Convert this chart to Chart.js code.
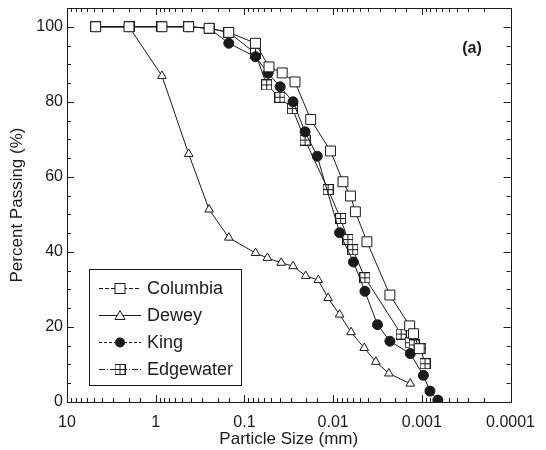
<!DOCTYPE html>
<html>
<head>
<meta charset="utf-8">
<script src="https://cdn.jsdelivr.net/npm/chart.js@4"></script>
<style>
  html, body { margin: 0; padding: 0; background: #fff; }
  #wrap { width: 546px; height: 450px; }
</style>
</head>
<body>
<div id="wrap"><canvas id="gradChart" width="546" height="450"></canvas></div>
<script>
// grain size data (mm vs % passing)
const columbiaSize = [4.75, 2.0, 0.85, 0.425, 0.25, 0.15, 0.075, 0.0528, 0.0375, 0.0269, 0.0179, 0.0107, 0.00774, 0.00637, 0.00561, 0.00416, 0.00229, 0.00137, 0.00124, 0.00107];
const columbiaPass = [100, 100, 100, 100, 99.6, 98.5, 95.6, 89.3, 87.7, 85.3, 75.3, 66.9, 58.7, 54.9, 50.7, 42.7, 28.5, 20.3, 18.2, 14.2];

const deweySize = [4.75, 2.0, 0.85, 0.425, 0.25, 0.15, 0.075, 0.0551, 0.0385, 0.0283, 0.0204, 0.0147, 0.0114, 0.00845, 0.00627, 0.00446, 0.0033, 0.00235, 0.00135];
const deweyPass = [100, 100, 86.9, 66.1, 51.3, 43.8, 39.7, 38.4, 37.1, 36.2, 33.6, 32.5, 27.7, 23.3, 18.6, 14.4, 10.7, 7.6, 4.9];

const kingSize = [4.75, 2.0, 0.85, 0.425, 0.25, 0.15, 0.075, 0.0541, 0.0395, 0.0283, 0.0207, 0.0151, 0.00845, 0.0059, 0.00438, 0.00316, 0.00229, 0.00135, 0.00096, 0.00081, 0.00066];
const kingPass = [100, 100, 100, 100, 99.6, 95.6, 92, 87.6, 84, 80, 72, 65.5, 45.1, 37.3, 29.5, 20.6, 16.2, 12.9, 7.1, 2.9, 0.5];

const edgeSize = [4.75, 2.0, 0.85, 0.425, 0.25, 0.15, 0.075, 0.0561, 0.0398, 0.0288, 0.0207, 0.0114, 0.00824, 0.00681, 0.0060, 0.00438, 0.00171, 0.00135, 0.00122, 0.00103, 0.00092];
const edgePass = [100, 100, 100, 100, 99.6, 98.5, 92.9, 84.5, 81.2, 78.2, 69.8, 56.6, 48.9, 43.3, 40.6, 33.1, 18.1, 15.8, 15.2, 14.2, 10.2];

const xTickLabels = ['10', '1', '0.1', '0.01', '0.001', '0.0001'];
const yTickLabels = [0, 20, 40, 60, 80, 100];

const FONT = "'Liberation Sans', Arial, sans-serif";
const INK = '#1a1a1a';

function pts(xs, ys) {
    return xs.map((x, i) => ({ x: x, y: ys[i] }));
}

// square with a cross inside, for Edgewater
function crossSquare(size) {
    const c = document.createElement('canvas');
    c.width = size; c.height = size;
    const g = c.getContext('2d');
    g.fillStyle = '#fff';
    g.fillRect(0, 0, size, size);
    g.strokeStyle = INK;
    g.lineWidth = 1;
    g.strokeRect(0.5, 0.5, size - 1, size - 1);
    const m = Math.floor(size / 2) + 0.5;
    g.beginPath();
    g.moveTo(m, 1); g.lineTo(m, size - 1);
    g.moveTo(1, m); g.lineTo(size - 1, m);
    g.stroke();
    return c;
}
const edgeMarker = crossSquare(11);

// inward ticks + frame
const frameTicks = {
    id: 'frameTicks',
    afterDraw(chart) {
        const ctx = chart.ctx;
        const a = chart.chartArea;
        const xs = chart.scales.x, ys = chart.scales.y;
        ctx.save();
        ctx.strokeStyle = INK;
        ctx.lineWidth = 1;
        ctx.strokeRect(Math.round(a.left) + 0.5, Math.round(a.top) + 0.5,
            Math.round(a.right - a.left), Math.round(a.bottom - a.top));
        ctx.beginPath();
        xs.ticks.forEach(t => {
            const p = Math.round(xs.getPixelForValue(t.value)) + 0.5;
            const lg = Math.log10(t.value);
            const len = Math.abs(lg - Math.round(lg)) < 1e-6 ? 7 : 4;
            ctx.moveTo(p, a.bottom); ctx.lineTo(p, a.bottom - len);
            ctx.moveTo(p, a.top); ctx.lineTo(p, a.top + len);
        });
        ys.ticks.forEach(t => {
            const p = Math.round(ys.getPixelForValue(t.value)) + 0.5;
            const len = t.value % 20 === 0 ? 7 : 4;
            ctx.moveTo(a.left, p); ctx.lineTo(a.left + len, p);
            ctx.moveTo(a.right, p); ctx.lineTo(a.right - len, p);
        });
        ctx.stroke();

        // panel tag
        ctx.fillStyle = INK;
        ctx.font = 'bold 16px ' + FONT;
        ctx.textAlign = 'center';
        ctx.textBaseline = 'middle';
        ctx.fillText('(a)', 472, 49);
        ctx.restore();
    }
};

// boxed legend with line + marker samples
const boxLegend = {
    id: 'boxLegend',
    afterDraw(chart) {
        const ctx = chart.ctx;
        const bx = 89.5, by = 269.5, bw = 152, bh = 116;
        const rows = [288, 315, 342, 369];
        const dashes = [[4, 2], [], [3, 2], [6, 2, 1, 2]];
        ctx.save();
        ctx.fillStyle = '#fff';
        ctx.fillRect(bx, by, bw, bh);
        ctx.strokeStyle = INK;
        ctx.lineWidth = 1;
        ctx.strokeRect(bx, by, bw, bh);
        chart.data.datasets.forEach((ds, i) => {
            const y = rows[i] + 0.5;
            ctx.setLineDash(dashes[i]);
            ctx.beginPath();
            ctx.moveTo(99, y); ctx.lineTo(141, y);
            ctx.stroke();
            ctx.setLineDash([]);
            const cx = 120;
            if (ds.pointStyle === 'rect') {
                ctx.fillStyle = '#fff';
                ctx.fillRect(cx - 5, y - 5, 10, 10);
                ctx.strokeRect(cx - 5, y - 5, 10, 10);
            } else if (ds.pointStyle === 'triangle') {
                ctx.fillStyle = '#fff';
                ctx.beginPath();
                ctx.moveTo(cx, y - 5); ctx.lineTo(cx + 5, y + 4); ctx.lineTo(cx - 5, y + 4);
                ctx.closePath();
                ctx.fill(); ctx.stroke();
            } else if (ds.pointStyle === 'circle') {
                ctx.fillStyle = INK;
                ctx.beginPath();
                ctx.arc(cx, y, 5, 0, Math.PI * 2);
                ctx.fill();
            } else {
                ctx.drawImage(edgeMarker, cx - 5.5, y - 5.5);
            }
            ctx.fillStyle = INK;
            ctx.font = '18px ' + FONT;
            ctx.textAlign = 'left';
            ctx.textBaseline = 'middle';
            ctx.fillText(ds.label, 147, y + 1);
        });
        ctx.restore();
    }
};

const common = {
    borderColor: INK,
    borderWidth: 1,
    pointBorderColor: INK,
    pointBorderWidth: 1,
    tension: 0,
    showLine: true
};

const ctx = document.getElementById('gradChart').getContext('2d');
const gradChart = new Chart(ctx, {
    type: 'scatter',
    data: {
        datasets: [
            Object.assign({ label: 'Columbia', data: pts(columbiaSize, columbiaPass),
                pointStyle: 'rect', pointRadius: 7, pointBackgroundColor: '#fff' }, common),
            Object.assign({ label: 'Dewey', data: pts(deweySize, deweyPass),
                pointStyle: 'triangle', pointRadius: 5, pointBackgroundColor: '#fff' }, common),
            Object.assign({ label: 'King', data: pts(kingSize, kingPass),
                pointStyle: 'circle', pointRadius: 5, pointBackgroundColor: INK }, common),
            Object.assign({ label: 'Edgewater', data: pts(edgeSize, edgePass),
                pointStyle: edgeMarker, pointRadius: 5, pointBackgroundColor: '#fff' }, common)
        ]
    },
    options: {
        responsive: false,
        animation: false,
        layout: { padding: { left: 0, right: 30, top: 8, bottom: 0 } },
        plugins: {
            legend: { display: false },
            tooltip: { enabled: false }
        },
        scales: {
            x: {
                type: 'logarithmic',
                reverse: true,
                min: 0.0001,
                max: 10,
                grid: { display: false, drawTicks: false },
                border: { display: false },
                afterFit: s => { s.height = 48; },
                ticks: {
                    autoSkip: false,
                    maxRotation: 0,
                    padding: 11,
                    color: INK,
                    font: { family: FONT, size: 16 },
                    callback: function(v) {
                        const lg = Math.log10(v);
                        if (Math.abs(lg - Math.round(lg)) > 1e-6) return '';
                        return xTickLabels[1 - Math.round(lg)];
                    }
                },
                title: {
                    display: true,
                    text: 'Particle Size (mm)',
                    color: INK,
                    font: { family: FONT, size: 17 },
                    padding: 0
                }
            },
            y: {
                min: 0,
                max: 105,
                grid: { display: false, drawTicks: false },
                border: { display: false },
                afterFit: s => { s.width = 67; s.paddingTop = 0; },
                ticks: {
                    stepSize: 5,
                    autoSkip: false,
                    padding: 4,
                    color: INK,
                    font: { family: FONT, size: 16 },
                    callback: v => yTickLabels.includes(v) ? String(v) : ''
                },
                title: {
                    display: true,
                    text: 'Percent Passing (%)',
                    color: INK,
                    font: { family: FONT, size: 17 },
                    padding: { top: 7, bottom: 0 }
                }
            }
        }
    },
    plugins: [frameTicks, boxLegend]
});
</script>
</body>
</html>
